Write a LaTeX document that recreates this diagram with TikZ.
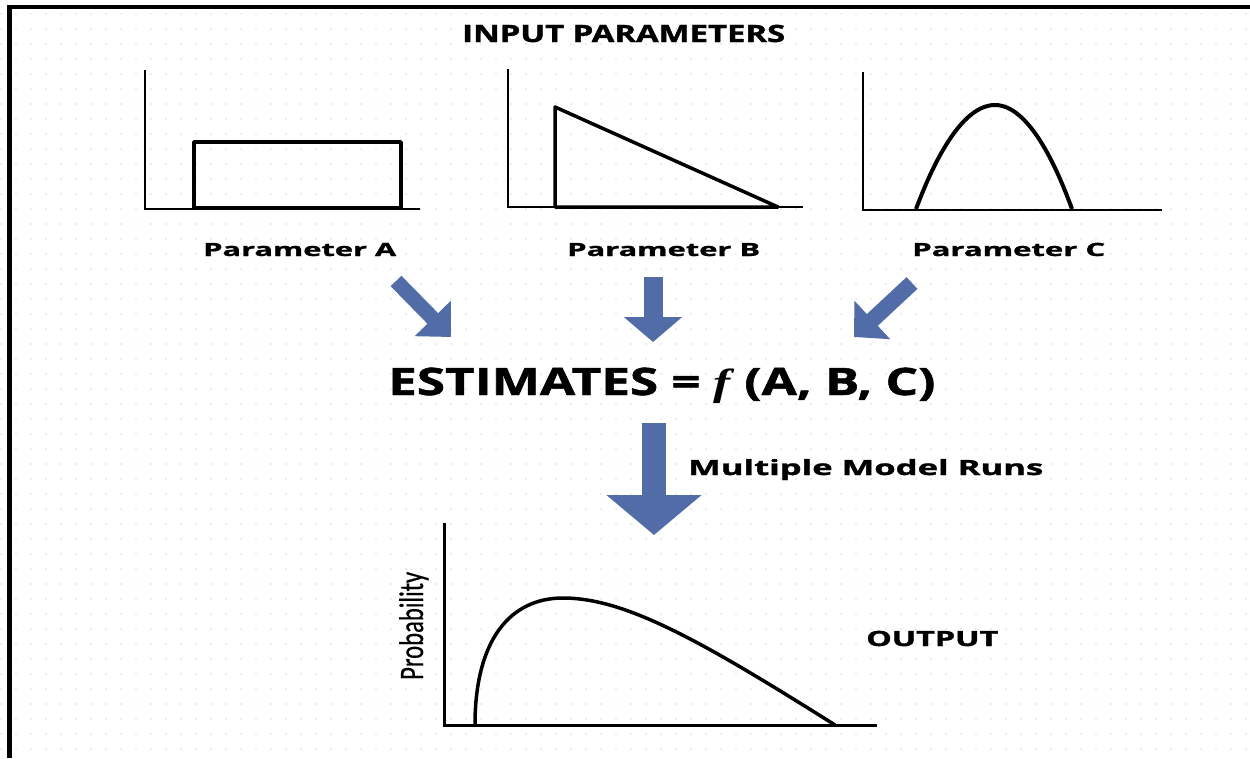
\documentclass[tikz,border=0pt]{standalone}
\usepackage{fontspec}
\usepackage{graphicx}
\setmainfont{Open Sans}[BoldFeatures={FakeBold=1.2}]
\newfontfamily\probfont{Carlito}[FakeBold=0.6]
\newfontfamily\funcfont{Liberation Serif}[BoldFeatures={FakeBold=1}]
\usetikzlibrary{arrows.meta}

\definecolor{arrowblue}{RGB}{82,108,168}

% text box stretched to a given width and cap height
\newcommand{\fitbox}[3]{\resizebox{#1}{#2}{\raisebox{0pt}[\fontcharht\font`E][0pt]{#3}}}

\tikzset{
  axis/.style={draw=black, line width=2pt},
  curve/.style={draw=black, line width=3.5pt, line join=round},
  gridline/.style={draw=black!7, line width=1.5pt, dash pattern=on 1.5pt off 13.5pt},
  lbl/.style={inner sep=0pt, anchor=base west, font=\bfseries},
  fatarrow/.style n args={3}{draw=arrowblue, line width=#1, -{Triangle[width=#2, length=#3]}},
}

\begin{document}
\begin{tikzpicture}[x=1pt, y=-1pt]
  \useasboundingbox (0,0) rectangle (1250,758);
  \fill[white] (0,0) rectangle (1250,758);

  % faint dotted paper
  \foreach \gy in {14,29,...,750}
    \draw[gridline] (0,\gy) -- (1250,\gy);

  % frame
  \draw[line width=5pt] (9,5) -- (9,758);
  \draw[line width=4pt] (7,7) -- (1250,7);

  % Title
  \node[lbl] (title) at (462,42) {\fitbox{323pt}{17pt}{INPUT PARAMETERS}};

  % Parameter A: uniform
  \draw[axis] (145,70) -- (145,209) -- (420,209);
  \draw[curve] (194,142) rectangle (401,208);
  \node[lbl] (parA) at (203,256) {\fitbox{193pt}{13pt}{Parameter A}};

  % Parameter B: triangular
  \draw[axis] (508,69) -- (508,207) -- (803,207);
  \draw[curve] (555,207) -- (555,107) -- (778,207) -- cycle;
  \node[lbl] (parB) at (567,256) {\fitbox{193pt}{13pt}{Parameter B}};

  % Parameter C: bell
  \draw[axis] (863,72) -- (863,210) -- (1162,210);
  \draw[curve, line width=4pt] (916,209) parabola bend (995,105) (1072,209);
  \node[lbl] (parC) at (912,256) {\fitbox{193pt}{13pt}{Parameter C}};

  % Model function
  \node[lbl] (est) at (388,395)
    {\fitbox{547pt}{27pt}{ESTIMATES = {\funcfont\bfseries\itshape f} (A, B, C)}};

  % arrows into the model
  \coordinate (tailA) at (396,281);  \coordinate (tipA) at (451,337);
  \coordinate (tailB) at (653,277);  \coordinate (tipB) at (653,342);
  \coordinate (tailC) at (912,283);  \coordinate (tipC) at (854,337);
  \draw[fatarrow={15pt}{49pt}{26pt}] (tailA) -- (tipA);
  \draw[fatarrow={19pt}{57pt}{25pt}] (tailB) -- (tipB);
  \draw[fatarrow={16pt}{51pt}{25pt}] (tailC) -- (tipC);

  % model runs
  \coordinate (tailRun) at (654,423);
  \coordinate (tipRun) at (654,535);
  \draw[fatarrow={24pt}{93pt}{40pt}] (tailRun) -- (tipRun);
  \node[lbl] (runs) at (688,475) {\fitbox{355pt}{15pt}{Multiple Model Runs}};

  % Output distribution
  \draw[axis, line width=3pt] (444,523) -- (444,725) -- (877,725);
  \draw[curve] (475,725) .. controls (475,640) and (510,598) .. (563,598)
    .. controls (625,598) and (700,640) .. (835,725);
  \node[lbl, rotate=90, font=\probfont] (prob) at (423,680)
    {\fitbox{108pt}{22pt}{Probability}};
  \node[lbl] (out) at (866,646) {\fitbox{132pt}{15pt}{OUTPUT}};
\end{tikzpicture}
\end{document}
